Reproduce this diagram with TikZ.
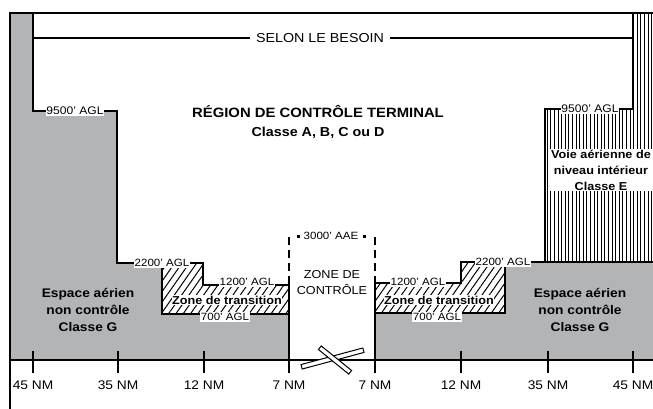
\documentclass[tikz,border=0pt]{standalone}
\usepackage{fontspec}
\setmainfont{Liberation Sans}[FakeStretch=1.1]
\usetikzlibrary{patterns.meta}
\definecolor{gzone}{RGB}{178,180,182}
\begin{document}
\begin{tikzpicture}[x=1pt,y=-1pt,
  bnd/.style={line width=2.4pt, line join=miter, line cap=rect},
  thinbnd/.style={line width=1.9pt, line join=miter},
  alt/.style={font=\fontsize{10.5}{11}\selectfont, fill=white, inner sep=0.8pt},
  altbig/.style={font=\fontsize{11}{12}\selectfont, fill=white, inner sep=0.8pt},
  title/.style={font=\bfseries\fontsize{13.5}{16}\selectfont, align=center},
  zone/.style={font=\bfseries\fontsize{11.5}{16}\selectfont, fill=white, inner sep=0.6pt},
  classg/.style={font=\bfseries\fontsize{12.5}{17}\selectfont, align=center},
  ctrl/.style={font=\fontsize{11.5}{16}\selectfont, align=center},
  nm/.style={font=\fontsize{12.5}{14}\selectfont, inner sep=0pt},
  rwy/.style={draw, fill=white, line width=1pt, inner sep=0pt, minimum height=4.6pt},
  tick/.style={line width=2.2pt},
  cz/.style={line width=2.2pt, dash pattern=on 8pt off 5pt}
]
\fill[white] (0,0) rectangle (653,408);
\useasboundingbox (0,0) rectangle (653,408);

% uncontrolled airspace (grey)
\fill[gzone] (10,13) -- (33,13) -- (33,111) -- (117,111) -- (117,263) -- (162,263)
  -- (162,314) -- (289,314) -- (289,360) -- (10,360) -- cycle;
\fill[gzone] (375,313) -- (505,313) -- (505,262) -- (653,262) -- (653,360) -- (375,360) -- cycle;

% low level airway class E (vertical hatching)
\path[pattern={Lines[angle=90,distance=3.6pt,line width=0.9pt]}]
  (545,262) -- (545,109) -- (633,109) -- (633,13) -- (653,13) -- (653,262) -- cycle;

% transition zones (diagonal hatching)
\path[pattern={Lines[angle=55,distance=6pt,line width=1pt]}]
  (162,263) -- (203,263) -- (203,285) -- (289,285) -- (289,314) -- (162,314) -- cycle;
\path[pattern={Lines[angle=55,distance=6pt,line width=1pt]}]
  (375,283) -- (461,283) -- (461,262) -- (505,262) -- (505,313) -- (375,313) -- cycle;

% boundaries
\draw[bnd] (10,408) -- (10,13) -- (653,13);
\draw[bnd] (10,360) -- (653,360);
\draw[thinbnd] (33,13) -- (33,111) -- (117,111);
\draw[bnd] (117,111) -- (117,263) -- (203,263) -- (203,285) -- (289,285);
\draw[bnd] (162,263) -- (162,314) -- (289,314);
\draw[bnd] (289,285) -- (289,360);
\draw[bnd] (375,283) -- (375,360);
\draw[bnd] (375,283) -- (461,283) -- (461,262) -- (653,262);
\draw[bnd] (505,262) -- (505,313) -- (375,313);
\draw[thinbnd] (545,262) -- (545,109) -- (633,109) -- (633,13);
\draw[thinbnd] (33,38) -- (633,38);

% control zone dashed top
\draw[cz] (289,237) -- (289,285);
\draw[cz] (375,237) -- (375,283);
\fill (296.5,234.5) rectangle (299.5,237.5);
\fill (362.5,234.5) rectangle (365.5,237.5);

% axis ticks
\foreach \x/\t [count=\i] in {33/45 NM,118/35 NM,204/12 NM,289/7 NM,375/7 NM,461/12 NM,548/35 NM,633/45 NM}{
  \draw[tick] (\x,351) -- (\x,373);
  \node[nm] (nm\i) at (\x,385) {\t};
}

% runway symbol
\node[rwy, minimum width=64pt, rotate=15] (rwyA) at (332.5,358.5) {};
\node[rwy, minimum width=39pt, rotate=-39] (rwyB) at (335,360) {};

% texts
\node[font=\fontsize{13}{15}\selectfont, fill=white, inner xsep=6pt, inner ysep=1pt] (selon) at (320,38) {SELON LE BESOIN};
\node[title] (tca) at (318,112) {RÉGION DE CONTRÔLE TERMINAL};
\node[font=\bfseries\fontsize{13}{15}\selectfont] (cls) at (318,133) {Classe A, B, C ou D};

\node[altbig] (a9500l) at (75,111) {9500' AGL};
\node[altbig] (a9500r) at (590,109) {9500' AGL};
\node[alt] (a2200l) at (162,263) {2200' AGL};
\node[alt] (a2200r) at (503,262) {2200' AGL};
\node[alt] (a1200l) at (247,282) {1200' AGL};
\node[alt] (a1200r) at (418,282) {1200' AGL};
\node[alt] (a700l) at (225,317) {700' AGL};
\node[alt] (a700r) at (437,317) {700' AGL};
\node[alt] (a3000) at (331,236) {3000' AAE};

\node[zone] (trl) at (227,300) {Zone de transition};
\node[zone] (trr) at (439,300) {Zone de transition};

\node[classg] (gl) at (88,310) {Espace aérien\\non contrôle\\Classe G};
\node[classg] (gr) at (580,310) {Espace aérien\\non contrôle\\Classe G};

\node[ctrl] (czn) at (332,283) {ZONE DE\\CONTRÔLE};

\node[font=\bfseries\fontsize{11.5}{16}\selectfont, align=center, fill=white, inner sep=1pt] (clE) at (601,170) {Voie aérienne de\\niveau intérieur\\Classe E};
\end{tikzpicture}
\end{document}
